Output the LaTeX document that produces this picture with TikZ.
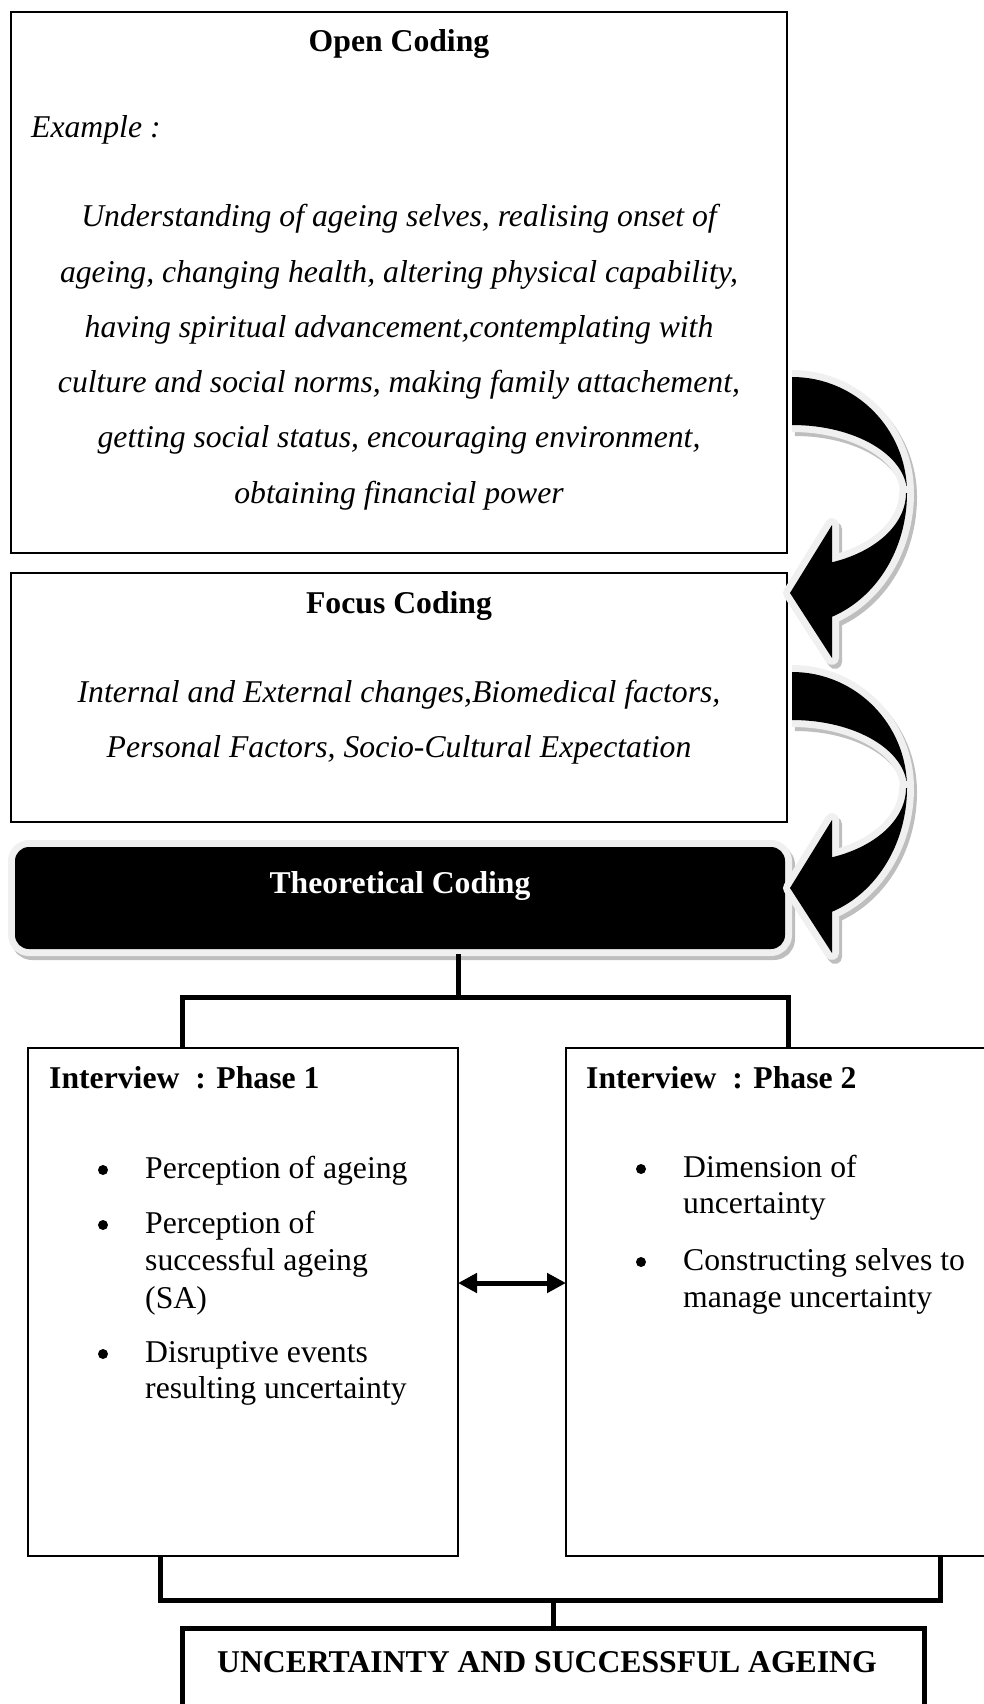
\documentclass[tikz,border=0pt]{standalone}
\usepackage{fontspec}
\setmainfont{Liberation Serif}
\usetikzlibrary{arrows.meta,calc,fit}
\definecolor{glowgray}{RGB}{240,240,240}
\definecolor{shadegray}{RGB}{190,190,190}
\newcommand\diagfont{\fontsize{31.7pt}{38pt}\selectfont}
% outline of the curved arrow: the band behind and the band in front with its head
\newcommand\backband{(0,0) .. controls (63.5,0) and (115,51.9) .. (115,116) .. controls (115,78.4) and (63.5,48) .. (0,48)}
\newcommand\frontband{(115,116) -- plot[domain=0:69.65,samples=40] ({115*cos(\x)},{116+132*sin(\x)}) -- (40,281) -- (-2,216) -- (40,148) -- (40,185.3) -- plot[domain=69.45:0,samples=40] ({114*cos(\x)},{116+74*sin(\x)}) -- cycle}

\begin{document}
\begin{tikzpicture}[x=1pt,y=-1pt,
  txt/.style={inner sep=0pt, font=\diagfont},
  head/.style={inner sep=0pt, font=\diagfont\bfseries},
  body/.style={inner sep=0pt, font=\diagfont\itshape},
  dot/.style={circle, fill=black, inner sep=0pt, minimum size=10pt},
  framebox/.style={draw, line width=2pt, anchor=north west, inner sep=0pt, outer sep=0pt},
  phasebox/.style={draw, line width=1.6pt, anchor=north west, inner sep=0pt, outer sep=0pt},
  resultbox/.style={draw, line width=5pt, anchor=north west, inner sep=0pt, outer sep=0pt},
  link/.style={line width=5pt},
  twoway/.style={line width=5pt, {Triangle[length=19pt,width=19pt]}-{Triangle[length=19pt,width=19pt]}},
  glow/.style={draw=glowgray, line width=14pt, line join=round},
  glowshade/.style={draw=shadegray, line width=14pt, line join=round},
  pics/bentarrow/.style={code={
    \path[glowshade, shift={(3,4)}] \backband;
    \path[glow] \backband;
    \fill[black] \backband -- cycle;
    \path[glowshade, shift={(3,4)}] \frontband;
    \path[glow] \frontband;
    \fill[black] \frontband;
  }},
]
\useasboundingbox (0,0) rectangle (984,1704);
\clip (0,0) rectangle (984,1704);

% ---- coding stages ----
\node[framebox, minimum width=776pt, minimum height=541pt] (open) at (11,12) {};
\node[framebox, minimum width=776pt, minimum height=249pt] (focus) at (11,573) {};

\coordinate (theoNW) at (15,847);
\coordinate (theoSE) at (785,949);
\draw[glowshade, rounded corners=14pt] ($(theoNW)+(3,4)$) rectangle ($(theoSE)+(3,4)$);
\draw[glow, rounded corners=14pt] (theoNW) rectangle (theoSE);
\node[fit=(theoNW)(theoSE), inner sep=0pt, outer sep=0pt, fill=black, rounded corners=14pt] (theo) {};

% ---- interview phases and outcome ----
\node[phasebox, minimum width=430pt, minimum height=508pt] (p1) at (28,1048) {};
\node[phasebox, minimum width=450pt, minimum height=508pt] (p2) at (566,1048) {};
\node[resultbox, minimum width=742pt, minimum height=110pt] (result) at (182,1628) {};

% ---- curved arrows between the stages ----
\pic (arrowA) at (792,377) {bentarrow};
\pic (arrowB) at (792,672) {bentarrow};

% ---- connectors ----
\coordinate (bar) at (0,997);
\coordinate (dropL) at (182,997);
\coordinate (dropR) at (788,997);
\draw[link] ($(theo.south -| p1.north east)+(0,5)$) -- (p1.north east |- bar);
\draw[link] (p1.north -| dropL) -- (dropL) -- (dropR) -- (p2.north -| dropR);

\coordinate (mid) at (0,1283);
\draw[twoway] (p1.east |- mid) -- (p2.west |- mid);

\coordinate (lowL) at (160,1600);
\coordinate (lowR) at (940,1600);
\draw[link] (p1.south -| lowL) -- (lowL) -- (lowR) -- (p2.south -| lowR);
\draw[link] (result.north |- lowL) -- (result.north);

% ---- texts: open coding ----
\node[head, anchor=base] (openT) at (399,52) {Open Coding};
\node[body, anchor=base west] (openEx) at (31,138) {Example :};
\foreach \t [count=\i] in {
  {Understanding of ageing selves, realising onset of},
  {ageing, changing health, altering physical capability,},
  {having spiritual advancement,contemplating with},
  {culture and social norms, making family attachement,},
  {getting social status, encouraging environment,},
  {obtaining financial power}}
  \node[body, anchor=base] (openL\i) at (399,{227+55.2*(\i-1)}) {\t};

% ---- texts: focus coding ----
\node[head, anchor=base] (focusT) at (399,613) {Focus Coding};
\node[body, anchor=base] (focusL1) at (399,702) {Internal and External changes,Biomedical factors,};
\node[body, anchor=base] (focusL2) at (399,757) {Personal Factors, Socio-Cultural Expectation};

% ---- texts: theoretical coding ----
\node[head, text=white, anchor=base] (theoT) at (400,893) {Theoretical Coding};

% ---- texts: phase 1 ----
\node[head, anchor=base west] (p1T) at (49,1088) {Interview\ \ : Phase 1};
\node[dot] (p1b1) at (103,1170) {};
\node[txt, anchor=base west] (p1i1) at (145,1178) {Perception of ageing};
\node[dot] (p1b2) at (103,1225) {};
\node[txt, anchor=base west] (p1i2a) at (145,1233) {Perception of};
\node[txt, anchor=base west] (p1i2b) at (145,1270) {successful ageing};
\node[txt, anchor=base west] (p1i2c) at (145,1308) {(SA)};
\node[dot] (p1b3) at (103,1354) {};
\node[txt, anchor=base west] (p1i3a) at (145,1362) {Disruptive events};
\node[txt, anchor=base west] (p1i3b) at (145,1398) {resulting uncertainty};

% ---- texts: phase 2 ----
\node[head, anchor=base west] (p2T) at (586,1088) {Interview\ \ : Phase 2};
\node[dot] (p2b1) at (641,1169) {};
\node[txt, anchor=base west] (p2i1a) at (683,1177) {Dimension of};
\node[txt, anchor=base west] (p2i1b) at (683,1213) {uncertainty};
\node[dot] (p2b2) at (641,1262) {};
\node[txt, anchor=base west] (p2i2a) at (683,1270) {Constructing selves to};
\node[txt, anchor=base west] (p2i2b) at (683,1307) {manage uncertainty};

% ---- texts: outcome ----
\node[head, anchor=base] (resultT) at (547,1672) {UNCERTAINTY AND SUCCESSFUL AGEING};
\end{tikzpicture}
\end{document}
